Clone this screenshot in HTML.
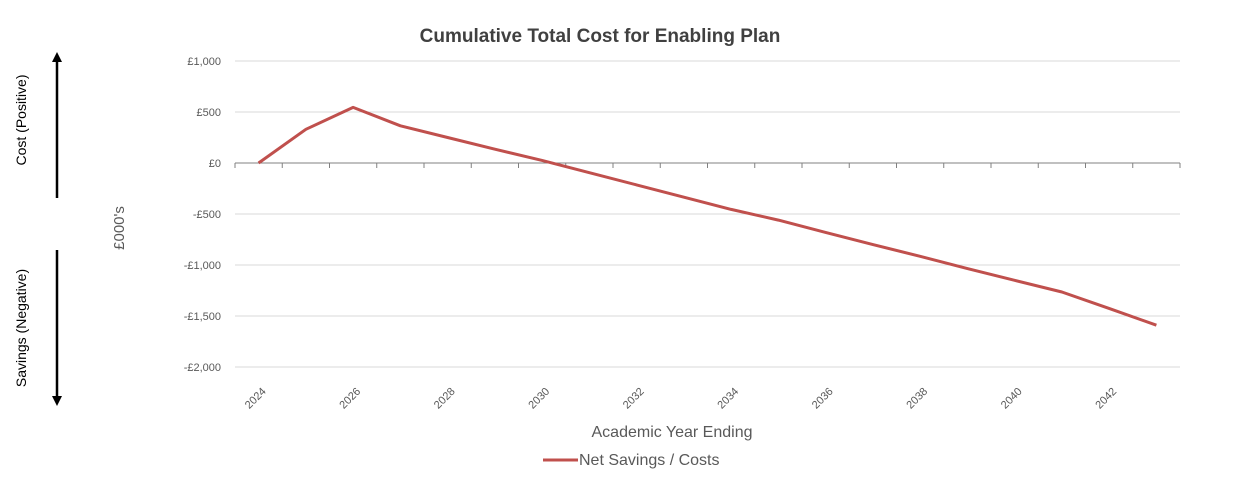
<!DOCTYPE html>
<html><head><meta charset="utf-8"><style>
body{margin:0;background:#fff;width:1238px;height:484px;overflow:hidden;font-family:"Liberation Sans",sans-serif}
</style></head><body>
<svg width="1238" height="484" id="c" font-family="Liberation Sans, sans-serif">
<text x="600" y="42" text-anchor="middle" font-size="19" font-weight="bold" fill="#404040">Cumulative Total Cost for Enabling Plan</text>
<text transform="translate(26,120) rotate(-90)" text-anchor="middle" font-size="14" fill="#000">Cost (Positive)</text>
<text transform="translate(26,328) rotate(-90)" text-anchor="middle" font-size="14" fill="#000">Savings (Negative)</text>
<g><line x1="57" y1="60" x2="57" y2="198" stroke="#000" stroke-width="2.5"/><polygon points="52,62 62,62 57,52" fill="#000"/></g>
<g><line x1="57" y1="250" x2="57" y2="398" stroke="#000" stroke-width="2.5"/><polygon points="52,396 62,396 57,406" fill="#000"/></g>
<text transform="translate(124,228) rotate(-90)" text-anchor="middle" font-size="15" fill="#595959">£000's</text>
<text x="672" y="437" text-anchor="middle" font-size="16" fill="#595959">Academic Year Ending</text>
<g><line x1="543" y1="460" x2="578" y2="460" stroke="#C0504D" stroke-width="3"/><text x="579" y="465" font-size="16" fill="#595959">Net Savings / Costs</text></g>
<g id="grid"></g><g id="axes"></g><g id="series"></g>
</svg>
<script>
const years=[2024,2025,2026,2027,2028,2029,2030,2031,2032,2033,2034,2035,2036,2037,2038,2039,2040,2041,2042,2043];
const values=[0,330,545,365,250,135,25,-95,-215,-335,-455,-560,-680,-800,-915,-1035,-1150,-1265,-1425,-1590];
const yTicks=[1000,500,0,-500,-1000,-1500,-2000];
const yTickLabels=["£1,000","£500","£0","-£500","-£1,000","-£1,500","-£2,000"];
const NS="http://www.w3.org/2000/svg";
const x0=235,x1=1180,yTop=61,yBot=367,vMax=1000,vMin=-2000;
const band=(x1-x0)/years.length;
function xs(i){return x0+band*(i+0.5);}
function ys(v){return yTop+(vMax-v)/(vMax-vMin)*(yBot-yTop);}
function mk(t,a,p){const e=document.createElementNS(NS,t);for(const k in a)e.setAttribute(k,a[k]);p.appendChild(e);return e;}
const grid=document.getElementById('grid'),axes=document.getElementById('axes'),series=document.getElementById('series');
yTicks.forEach((v,i)=>{
 const g=mk('line',{x1:x0,x2:x1,y1:ys(v),y2:ys(v),stroke:v===0?'#808080':'#d9d9d9','stroke-width':1},grid);
 
 
 const t=mk('text',{x:221,y:ys(v)+4,'text-anchor':'end','font-size':11,fill:'#595959'},axes);
 t.textContent=yTickLabels[i];
 
 
});
for(let i=0;i<=years.length;i++){
 const tk=mk('line',{x1:x0+band*i,x2:x0+band*i,y1:ys(0),y2:ys(0)+5,stroke:'#808080'},axes);
 
 
}
years.forEach((y,i)=>{
 if(i%2)return;
 const x=xs(i),yy=392;
 const t=mk('text',{x:x+8,y:yy,'text-anchor':'end','font-size':11,fill:'#595959',transform:`rotate(-45 ${x+8} ${yy})`},axes);
 t.textContent=y;
 
 
});
const pts=values.map((v,i)=>xs(i).toFixed(1)+','+ys(v).toFixed(1)).join(' ');
const pl=mk('polyline',{points:pts,fill:'none',stroke:'#C0504D','stroke-width':3,'stroke-linejoin':'round'},series);


</script>
</body></html>
